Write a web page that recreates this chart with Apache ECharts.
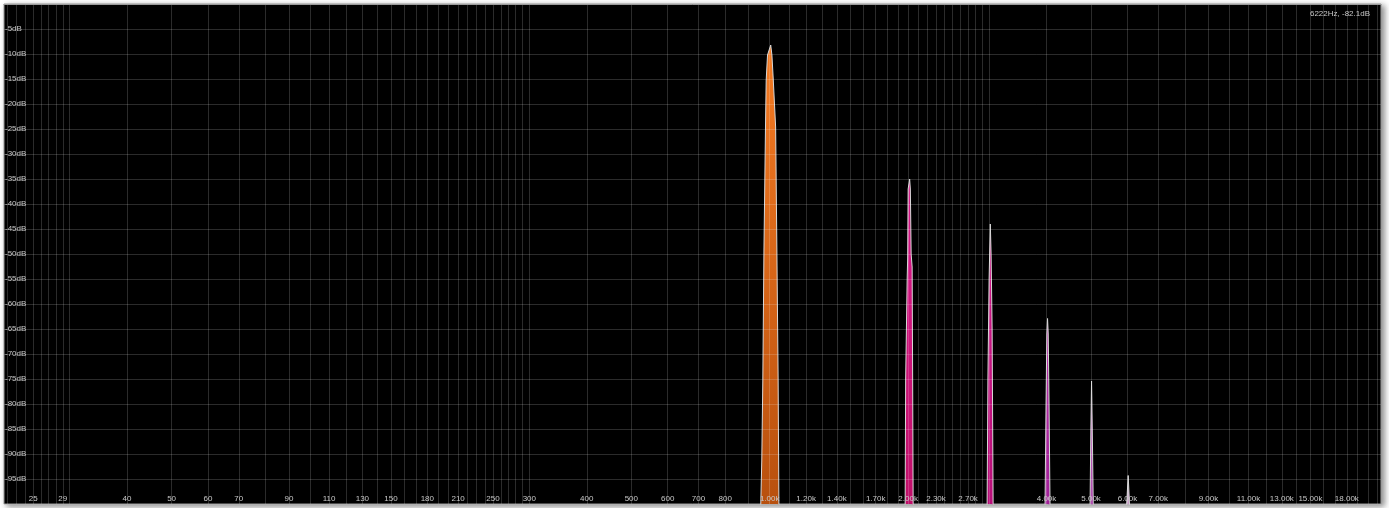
<!DOCTYPE html>
<html>
<head>
<meta charset="utf-8">
<script src="https://cdn.jsdelivr.net/npm/echarts@6/dist/echarts.min.js"></script>
<style>
html,body{margin:0;padding:0;background:#ffffff;}
#chart{width:1389px;height:508px;}
</style>
</head>
<body>
<div id="chart"></div>
<script>
// Frequency (Hz) / level (dB) samples
var fundamental = [[956,-100.2],[961,-91.2],[966,-75.2],[971.5,-49.2],[979,-24.6],[982.5,-15.2],[989,-10.2],[1005,-8.2],[1011,-10.2],[1018,-15.2],[1030,-24.6],[1036.5,-49.2],[1043,-75.2],[1047,-100.2]];
var harmonic2 = [[1970.6,-100.2],[1975.5,-75],[1990.4,-55],[1995.3,-51],[2000.3,-37],[2015.4,-35],[2022.4,-37],[2030.5,-50],[2040.7,-52.6],[2045.9,-75],[2051,-100.2]];
var harmonic3 = [[2970.6,-100.2],[2982.5,-75],[3000.4,-55],[3018.5,-44],[3030.6,-50],[3045.9,-65],[3061.2,-100.2]];
var harmonic4 = [[3970.6,-100.2],[3990.5,-80],[4006.6,-66],[4020.6,-62.9],[4034.7,-66],[4050.9,-80],[4071.2,-100.2]];
var harmonic5 = [[4975,-100.2],[4995,-85],[5012,-75.4],[5030,-85],[5055,-100.2]];
var harmonic6 = [[5975,-100.2],[6000,-97],[6021,-94.3],[6040,-97],[6062,-100.2]];

// Axis ticks
var xLabelFreqs = [25,29,40,50,60,70,90,110,130,150,180,210,250,300,400,500,600,700,800,1000,1200,1400,1700,2000,2300,2700,4000,5000,6000,7000,9000,11000,13000,15000,18000];
var xGridFreqs = [22,23,24,25,26,27,28,29,30,40,50,60,70,80,90,
  100,110,120,130,140,150,160,170,180,190,200,210,220,230,240,250,260,270,280,290,300,
  400,500,600,700,800,900,1000,1100,1200,1300,1400,1500,1600,1700,1800,1900,2000,2100,2200,2300,2400,2500,2600,2700,2800,2900,3000,
  4000,5000,6000,7000,8000,9000,10000,11000,12000,13000,14000,15000,16000,17000,18000,19000,20000,21000];
var readout = '6222Hz, -82.1dB';

function fmtFreq(v){
  if (v >= 999) return (Math.round(v/10)/100).toFixed(2) + 'k';
  return String(Math.round(v));
}

var chart = echarts.init(document.getElementById('chart'));
function peak(data, top, bottom){
  return {
    type:'line', data:data, showSymbol:false, silent:true, animation:false, z:2,
    lineStyle:{color:'#d8d8d8', width:1},
    areaStyle:{origin:'start', opacity:1,
      color:{type:'linear', x:0, y:0, x2:0, y2:1, colorStops:[{offset:0,color:top},{offset:1,color:bottom}]}}
  };
}
var gridColor = 'rgba(255,255,255,0.17)';
chart.setOption({
  backgroundColor:'#ffffff',
  animation:false,
  textStyle:{fontFamily:'Liberation Sans, Arial, sans-serif'},
  grid:{left:4, right:8, top:4, height:500, show:true, backgroundColor:'#000000',
        borderColor:'#9a9a9a', borderWidth:1,
        shadowColor:'rgba(0,0,0,0.45)', shadowBlur:6, shadowOffsetX:3, shadowOffsetY:2},
  xAxis:{type:'log', logBase:10, min:21.6, max:21360, z:5,
    axisLine:{show:true, lineStyle:{color:'#9a9a9a'}},
    axisTick:{show:false, customValues:xGridFreqs},
    splitLine:{show:true, lineStyle:{color:gridColor, width:1}},
    axisLabel:{show:true, inside:true, margin:1, customValues:xLabelFreqs,
      color:'#c8c8c8', fontSize:8, fontFamily:'Liberation Sans, Arial, sans-serif',
      formatter:function(v){return fmtFreq(v);}}
  },
  yAxis:{type:'value', min:-100, max:0, interval:5, z:5,
    axisLine:{show:false}, axisTick:{show:false},
    splitLine:{show:true, lineStyle:{color:gridColor, width:1}},
    axisLabel:{inside:true, margin:1, color:'#c8c8c8', fontSize:8, showMinLabel:false, showMaxLabel:false,
      fontFamily:'Liberation Sans, Arial, sans-serif',
      formatter:function(v){return (v===0||v===-100)?'':v+'dB';}}
  },
  graphic:[{type:'text', right:19, top:10, z:100,
    style:{text:readout, fill:'#c8c8c8', font:'8px "Liberation Sans", Arial, sans-serif', textAlign:'right'}}],
  series:[
    peak(fundamental,'#f47a22','#b8500e'),
    peak(harmonic2,'#d8188a','#c0106a'),
    peak(harmonic3,'#d01888','#b8107a'),
    peak(harmonic4,'#b830a8','#a02098'),
    peak(harmonic5,'#b040b0','#a02aa0'),
    peak(harmonic6,'#e0c8e0','#c090c0')
  ]
});
</script>
</body>
</html>
